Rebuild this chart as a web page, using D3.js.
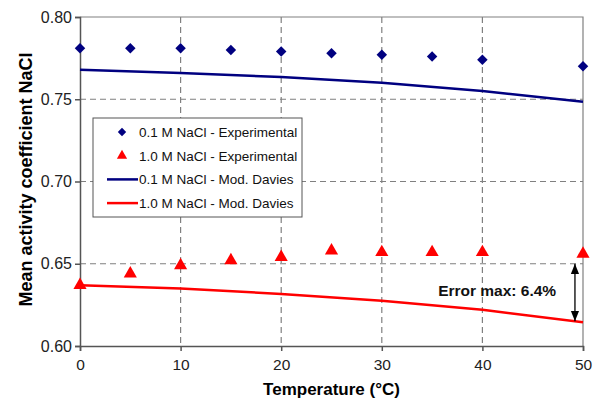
<!DOCTYPE html>
<html>
<head>
<meta charset="utf-8">
<script src="https://cdn.jsdelivr.net/npm/d3@7"></script>
<style>
  body { margin: 0; background: #fff; }
  svg { display: block; font-family: Arial, "Liberation Sans", sans-serif; }
</style>
</head>
<body>
<div id="chart"></div>
<script>
// Datos
const TEMPS_EXP   = [0, 5, 10, 15, 20, 25, 30, 35, 40, 50];
const EXP_01      = [0.781, 0.781, 0.781, 0.780, 0.779, 0.778, 0.777, 0.776, 0.774, 0.770];
const EXP_10      = [0.637, 0.644, 0.649, 0.652, 0.654, 0.658, 0.657, 0.657, 0.657, 0.656];
const TEMPS_MODEL = [0, 10, 20, 30, 40, 50];
const MOD_01      = [0.768, 0.766, 0.7635, 0.760, 0.755, 0.7485];
const MOD_10      = [0.637, 0.635, 0.6316, 0.6275, 0.622, 0.6145];
const X_TICKS     = [0, 10, 20, 30, 40, 50];
const Y_TICKS     = [0.60, 0.65, 0.70, 0.75, 0.80];
const LEGEND      = ["0.1 M NaCl - Experimental", "1.0 M NaCl - Experimental", "0.1 M NaCl - Mod. Davies", "1.0 M NaCl - Mod. Davies"];
const ERROR_LABEL = "Error max: 6.4%";

const BLUE = "#000080", RED = "#ff0000";
const width = 601, height = 401;
const margin = { top: 17, right: 18, bottom: 55, left: 80 };

const svg = d3.select("#chart").append("svg").attr("width", width).attr("height", height);

const x = d3.scaleLinear().domain([0, 50]).range([margin.left, width - margin.right]);
const y = d3.scaleLinear().domain([0.60, 0.80]).range([height - margin.bottom, margin.top]);

// Rejilla punteada
const grid = svg.append("g").attr("stroke", "#808080").attr("stroke-width", 1.2).attr("stroke-dasharray", "6,4");
grid.selectAll("line.v").data(X_TICKS.slice(1, -1)).join("line")
  .attr("x1", d => x(d)).attr("x2", d => x(d)).attr("y1", y(0.80)).attr("y2", y(0.60));
grid.selectAll("line.h").data(Y_TICKS.slice(1, -1)).join("line")
  .attr("x1", x(0)).attr("x2", x(50)).attr("y1", d => y(d)).attr("y2", d => y(d));

// Borde superior y derecho
svg.append("path").attr("fill", "none").attr("stroke", "#808080").attr("stroke-width", 1.2)
  .attr("d", `M${x(0)},${y(0.80)}H${x(50)}V${y(0.60)}`);

// Ejes
const ax = svg.append("g").attr("transform", `translate(0,${y(0.60)})`)
  .call(d3.axisBottom(x).tickValues(X_TICKS).tickSize(5).tickPadding(8).tickFormat(d3.format("d")));
const ay = svg.append("g").attr("transform", `translate(${x(0)},0)`)
  .call(d3.axisLeft(y).tickValues(Y_TICKS).tickSize(5).tickPadding(3).tickFormat(d3.format(".2f")));
[ax, ay].forEach(a => {
  a.select(".domain").attr("stroke", "#555").attr("stroke-width", 1.5);
  a.selectAll(".tick line").attr("stroke", "#555").attr("stroke-width", 1.5);
  a.selectAll("text").attr("fill", "#222").attr("font-family", "Arial, 'Liberation Sans', sans-serif");
});
ax.selectAll("text").attr("font-size", 15.5);
ay.selectAll("text").attr("font-size", 16);

// Titulos
svg.append("text").attr("x", x(25)).attr("y", 395).attr("text-anchor", "middle")
  .attr("font-size", 17).attr("font-weight", "bold").text("Temperature (°C)");
svg.append("text").attr("transform", `translate(32,${y(0.70) - 2}) rotate(-90)`).attr("text-anchor", "middle")
  .attr("font-size", 18).attr("font-weight", "bold").text("Mean activity coefficient NaCl");

// Lineas del modelo
const line = d3.line().x(d => x(d[0])).y(d => y(d[1]));
svg.append("path").datum(d3.zip(TEMPS_MODEL, MOD_01)).attr("d", line)
  .attr("fill", "none").attr("stroke", BLUE).attr("stroke-width", 2.5);
svg.append("path").datum(d3.zip(TEMPS_MODEL, MOD_10)).attr("d", line)
  .attr("fill", "none").attr("stroke", RED).attr("stroke-width", 2.5);

// Marcadores
const diamond = d3.symbol().type(d3.symbolDiamond2).size(70);
const triangle = d3.symbol().type(d3.symbolTriangle).size(75);
svg.append("g").selectAll("path").data(d3.zip(TEMPS_EXP, EXP_01)).join("path")
  .attr("d", diamond).attr("fill", BLUE)
  .attr("transform", d => `translate(${x(d[0])},${y(d[1])})`);
svg.append("g").selectAll("path").data(d3.zip(TEMPS_EXP, EXP_10)).join("path")
  .attr("d", triangle).attr("fill", RED)
  .attr("transform", d => `translate(${x(d[0])},${y(d[1])})`);

// Flecha de error
const defs = svg.append("defs");
defs.append("marker").attr("id", "ah").attr("viewBox", "0 0 10 10").attr("refX", 10).attr("refY", 5)
  .attr("markerWidth", 8).attr("markerHeight", 8).attr("orient", "auto-start-reverse")
  .append("path").attr("d", "M0,1L10,5L0,9Z").attr("fill", "#000");
const ax49 = x(49.2);
svg.append("line").attr("x1", ax49).attr("x2", ax49)
  .attr("y1", y(0.65)).attr("y2", y(MOD_10[MOD_10.length - 1]) - 1)
  .attr("stroke", "#000").attr("stroke-width", 1.3)
  .attr("marker-start", "url(#ah)").attr("marker-end", "url(#ah)");
svg.append("text").attr("x", x(35.6)).attr("y", 296).attr("font-size", 15.5).attr("font-weight", "bold")
  .attr("fill", "#111").text(ERROR_LABEL);

// Leyenda
const lg = svg.append("g").attr("transform", "translate(93,118)");
lg.append("rect").attr("width", 209).attr("height", 99).attr("fill", "#fff").attr("stroke", "#555").attr("stroke-width", 1);
const rowY = i => 14 + i * 23.7;
const items = lg.selectAll("g.item").data(LEGEND).join("g").attr("class", "item")
  .attr("transform", (d, i) => `translate(0,${rowY(i)})`);
items.append("text").attr("x", 46).attr("y", 5).attr("font-size", 13.5).attr("fill", "#111").text(d => d);
items.filter((d, i) => i === 0).append("path").attr("d", d3.symbol().type(d3.symbolDiamond2).size(45))
  .attr("fill", BLUE).attr("transform", "translate(29,0)");
items.filter((d, i) => i === 1).append("path").attr("d", d3.symbol().type(d3.symbolTriangle).size(45))
  .attr("fill", RED).attr("transform", "translate(29,0)");
items.filter((d, i) => i >= 2).append("line").attr("x1", 14).attr("x2", 45).attr("y1", 0).attr("y2", 0)
  .attr("stroke", (d, i) => i === 0 ? BLUE : RED).attr("stroke-width", 2.5);
</script>
</body>
</html>
